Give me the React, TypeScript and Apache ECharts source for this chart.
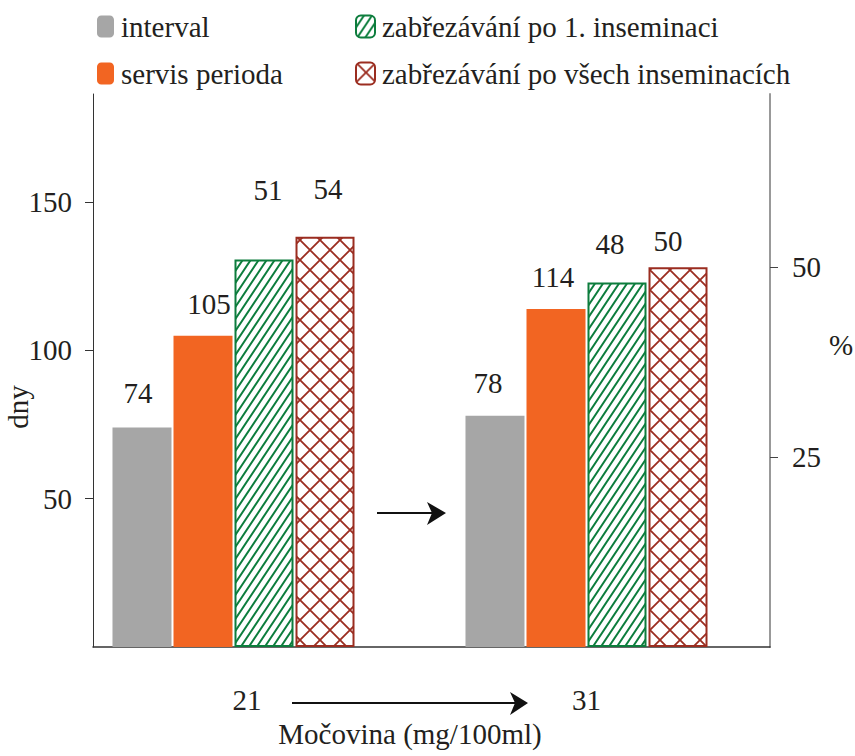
import React, { useEffect, useRef } from "react";
import * as echarts from "echarts";

const categories = ["21", "31"];
const seriesNames = [
  "interval",
  "servis perioda",
  "zabřezávání po 1. inseminaci",
  "zabřezávání po všech inseminacích",
];
const intervalValues = [74, 78];
const servisValues = [105, 114];
const zabrez1Values = [51, 48];
const zabrezAllValues = [54, 50];
const leftTicks = [50, 100, 150];
const rightTicks = [25, 50];

// label nudges (style only): [dx, dy] per category
const intervalLabelOffsets = [[-4, -15], [-7, -13]];
const servisLabelOffsets = [[6, -12], [-3, -12]];
const zabrez1LabelOffsets = [[4, -50], [-7, -19]];
const zabrezAllLabelOffsets = [[3, -28], [-10, -7]];

const FONT = '"Liberation Serif", "Times New Roman", serif';
const FS = 29;
const TXT = "#231f20";
const GRAY = "#a6a6a6";
const ORANGE = "#f26522";
const GREEN = "#0d7d3d";
const RED = "#9b2d20";

function stripePattern() {
  const c = document.createElement("canvas");
  c.width = 8;
  c.height = 12;
  const ctx = c.getContext("2d")!;
  ctx.fillStyle = "#ffffff";
  ctx.fillRect(0, 0, 8, 12);
  ctx.strokeStyle = GREEN;
  ctx.lineWidth = 2;
  ctx.beginPath();
  ctx.moveTo(0, 12);
  ctx.lineTo(8, 0);
  ctx.moveTo(-2, 3);
  ctx.lineTo(2, -3);
  ctx.moveTo(6, 15);
  ctx.lineTo(10, 9);
  ctx.stroke();
  return c;
}

function latticePattern() {
  const c = document.createElement("canvas");
  c.width = 20;
  c.height = 20;
  const ctx = c.getContext("2d")!;
  ctx.fillStyle = "#ffffff";
  ctx.fillRect(0, 0, 20, 20);
  ctx.strokeStyle = RED;
  ctx.lineWidth = 1.8;
  ctx.beginPath();
  ctx.moveTo(-2, -2);
  ctx.lineTo(22, 22);
  ctx.moveTo(22, -2);
  ctx.lineTo(-2, 22);
  ctx.stroke();
  return c;
}

function withLabels(values: number[], offsets: number[][]) {
  return values.map((v, i) => ({ value: v, label: { offset: offsets[i] } }));
}

export default function App() {
  const ref = useRef<HTMLDivElement>(null);
  useEffect(() => {
    document.body.style.margin = "0";
    const chart = echarts.init(ref.current!, null, { renderer: "svg" });
    const greenFill = { image: stripePattern(), repeat: "repeat" } as any;
    const redFill = { image: latticePattern(), repeat: "repeat" } as any;
    const labelStyle = {
      show: true,
      position: "top",
      fontFamily: FONT,
      fontSize: FS,
      color: TXT,
    };
    const gridTop = 94;
    const gridBottom = 109;
    const leftMax = 186.5;
    const rightMax = 72.8;

    const option: any = {
      animation: false,
      backgroundColor: "#ffffff",
      textStyle: { fontFamily: FONT, color: TXT },
      legend: [
        {
          orient: "vertical",
          left: 97,
          top: 12,
          itemWidth: 17,
          itemHeight: 22,
          itemGap: 18,
          padding: 0,
          selectedMode: false,
          textStyle: { fontFamily: FONT, fontSize: FS, color: TXT, padding: [0, 0, 0, 2] },
          data: [seriesNames[0], seriesNames[1]],
        },
        {
          orient: "vertical",
          left: 355,
          top: 12,
          itemWidth: 19,
          itemHeight: 22,
          itemGap: 18,
          padding: 0,
          selectedMode: false,
          textStyle: { fontFamily: FONT, fontSize: FS, color: TXT, padding: [0, 0, 0, 2] },
          data: [
            { name: seriesNames[2], itemStyle: { borderColor: GREEN, borderWidth: 2 } },
            { name: seriesNames[3], itemStyle: { borderColor: RED, borderWidth: 2 } },
          ],
        },
      ],
      grid: [
        { left: 57, right: 92, top: gridTop, bottom: gridBottom },
        { left: 93, right: 85, top: gridTop, bottom: gridBottom },
      ],
      xAxis: [
        {
          type: "category",
          gridIndex: 0,
          data: [
            { value: categories[0], textStyle: { padding: [0, 0, 0, 27] } },
            { value: categories[1], textStyle: { padding: [0, 0, 6, 0] } },
          ],
          axisLine: { show: false },
          axisTick: { show: false },
          axisLabel: { fontFamily: FONT, fontSize: FS, color: TXT, margin: 38 },
          name: "Močovina (mg/100ml)",
          nameLocation: "middle",
          nameGap: 72,
          nameTextStyle: { fontFamily: FONT, fontSize: FS, color: TXT },
        },
        {
          type: "value",
          gridIndex: 1,
          min: 0,
          max: 1,
          axisLine: { show: true, lineStyle: { color: "#333", width: 1.5 } },
          axisTick: { show: false },
          axisLabel: { show: false },
          splitLine: { show: false },
        },
      ],
      yAxis: [
        { type: "value", gridIndex: 0, min: 0, max: leftMax, show: false },
        { type: "value", gridIndex: 0, min: 0, max: rightMax, show: false },
        {
          type: "value",
          gridIndex: 1,
          position: "left",
          min: 0,
          max: leftMax,
          interval: 50,
          axisLine: { show: true, lineStyle: { color: "#333", width: 1 } },
          axisTick: { show: true, length: 8, customValues: leftTicks, lineStyle: { color: "#333" } },
          axisLabel: {
            customValues: leftTicks,
            fontFamily: FONT,
            fontSize: FS,
            color: TXT,
            margin: 21,
          },
          splitLine: { show: false },
        },
        {
          type: "value",
          gridIndex: 1,
          position: "right",
          min: 0,
          max: rightMax,
          interval: 25,
          axisLine: { show: true, lineStyle: { color: "#999", width: 2 } },
          axisTick: { show: true, length: 8, customValues: rightTicks, lineStyle: { color: "#444" } },
          axisLabel: {
            customValues: rightTicks,
            fontFamily: FONT,
            fontSize: FS,
            color: TXT,
            margin: 22,
          },
          splitLine: { show: false },
        },
      ],
      series: [
        {
          name: seriesNames[0],
          type: "bar",
          xAxisIndex: 0,
          yAxisIndex: 0,
          barWidth: 59,
          barGap: "3.4%",
          itemStyle: { color: GRAY },
          label: labelStyle,
          data: withLabels(intervalValues, intervalLabelOffsets),
        },
        {
          name: seriesNames[1],
          type: "bar",
          xAxisIndex: 0,
          yAxisIndex: 0,
          barWidth: 59,
          barGap: "3.4%",
          itemStyle: { color: ORANGE },
          label: labelStyle,
          data: withLabels(servisValues, servisLabelOffsets),
        },
        {
          name: seriesNames[2],
          type: "bar",
          xAxisIndex: 0,
          yAxisIndex: 1,
          barWidth: 59,
          barGap: "3.4%",
          itemStyle: { color: greenFill, borderColor: GREEN, borderWidth: 2 },
          label: labelStyle,
          data: withLabels(zabrez1Values, zabrez1LabelOffsets),
        },
        {
          name: seriesNames[3],
          type: "bar",
          xAxisIndex: 0,
          yAxisIndex: 1,
          barWidth: 59,
          barGap: "3.4%",
          itemStyle: { color: redFill, borderColor: RED, borderWidth: 2 },
          label: labelStyle,
          data: withLabels(zabrezAllValues, zabrezAllLabelOffsets),
        },
      ],
      graphic: [
        {
          type: "text",
          x: 18,
          y: 407,
          rotation: Math.PI / 2,
          style: {
            text: "dny",
            fontFamily: FONT,
            fontSize: FS,
            fill: TXT,
            align: "center",
            verticalAlign: "middle",
          },
        },
        {
          type: "text",
          x: 841,
          y: 345,
          style: {
            text: "%",
            fontFamily: FONT,
            fontSize: FS,
            fill: TXT,
            align: "center",
            verticalAlign: "middle",
          },
        },
        {
          type: "line",
          shape: { x1: 377, y1: 513, x2: 436, y2: 513 },
          style: { stroke: "#111", lineWidth: 2 },
        },
        {
          type: "polygon",
          shape: { points: [[427, 502], [446, 513], [427, 525], [432, 513]] },
          style: { fill: "#111" },
        },
        {
          type: "line",
          shape: { x1: 292, y1: 703, x2: 518, y2: 703 },
          style: { stroke: "#111", lineWidth: 2 },
        },
        {
          type: "polygon",
          shape: { points: [[510, 692], [528, 703], [510, 715], [515, 703]] },
          style: { fill: "#111" },
        },
      ],
    };
    chart.setOption(option);
    return () => chart.dispose();
  }, []);
  return <div ref={ref} style={{ width: 855, height: 756 }} />;
}
